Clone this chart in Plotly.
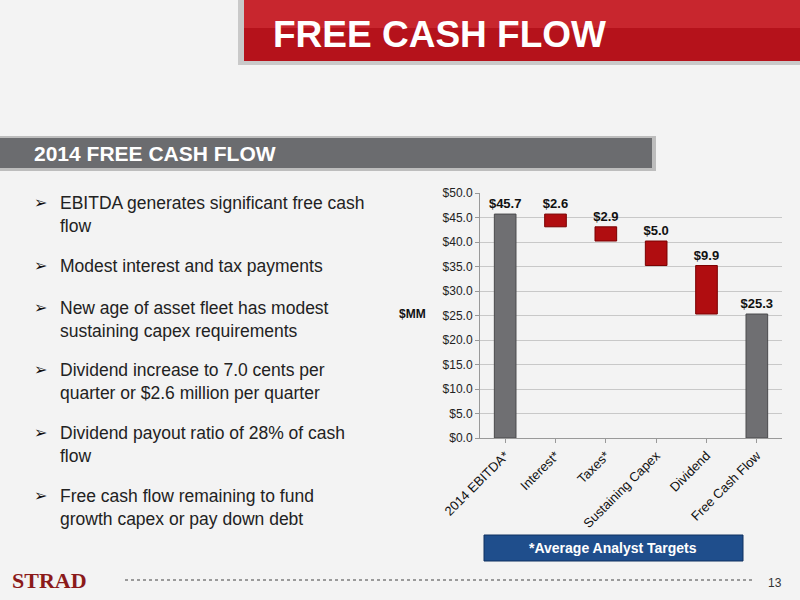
import plotly.graph_objects as go

categories = ["2014 EBITDA*", "Interest*", "Taxes*", "Sustaining Capex", "Dividend", "Free Cash Flow"]
amounts = [45.7, 2.6, 2.9, 5.0, 9.9, 25.3]
kinds = ["total", "down", "down", "down", "down", "total"]
yticks = [0, 5, 10, 15, 20, 25, 30, 35, 40, 45, 50]
bullets = [
    "EBITDA generates significant free cash<br>flow",
    "Modest interest and tax payments",
    "New age of asset fleet has modest<br>sustaining capex requirements",
    "Dividend increase to 7.0 cents per<br>quarter or $2.6 million per quarter",
    "Dividend payout ratio of 28% of cash<br>flow",
    "Free cash flow remaining to fund<br>growth capex or pay down debt",
]
bullet_y = [203, 266, 308, 370, 433, 496]

bases, heights = [], []
level = 0.0
for a, k in zip(amounts, kinds):
    if k == "total":
        bases.append(0.0); heights.append(a); level = a
    else:
        level -= a
        bases.append(level); heights.append(a)
colors = ["#6f6f72" if k == "total" else "#b00d10" for k in kinds]
lines = ["#4a4a4c" if k == "total" else "#7a0000" for k in kinds]

L, R, T, B = 480, 18, 193, 162
PW, PH = 800 - L - R, 600 - T - B

fig = go.Figure()
fig.add_trace(go.Bar(
    x=categories, y=heights, base=bases, width=0.43,
    marker=dict(color=colors, line=dict(color=lines, width=1)),
    text=["<b>$%.1f</b>" % a for a in amounts], textposition="outside", constraintext="none",
    textfont=dict(family="Liberation Sans", size=13, color="#111"),
    cliponaxis=False, hoverinfo="skip"))

fig.update_layout(
    width=800, height=600, margin=dict(l=L, r=R, t=T, b=B),
    paper_bgcolor="#f3f3f3", plot_bgcolor="rgba(0,0,0,0)",
    showlegend=False, font=dict(family="Liberation Sans", color="#222"),
    xaxis=dict(tickangle=-45, tickfont=dict(size=13, color="#111"),
               showline=True, linecolor="#999", ticks="outside", ticklen=4, tickcolor="#999"),
    yaxis=dict(range=[0, 50], tickvals=yticks, ticktext=["$%.1f" % v for v in yticks],
               tickfont=dict(size=12, color="#222"), gridcolor="#c8c8c8",
               showline=True, linecolor="#999", ticks="outside", ticklen=4, tickcolor="#999",
               zeroline=False),
)

def px(x): return (x - L) / PW
def py(y): return (600 - B - y) / PH

def rect(x0, y0, x1, y1, **kw):
    return dict(type="rect", xref="paper", yref="paper", x0=px(x0), x1=px(x1), y0=py(y1), y1=py(y0),
                layer="below", **kw)

shapes = [
    rect(238, -2, 802, 65, fillcolor="#c9c9c9", line=dict(width=0)),
    rect(244, 0, 800, 61, fillcolor="#b5121b", line=dict(width=0)),
    rect(244, 0, 800, 28, fillcolor="#c8262e", line=dict(width=0)),
    rect(0, 136, 656, 171, fillcolor="#bdbdbd", line=dict(width=0)),
    rect(0, 138, 652, 168, fillcolor="#6b6c6f", line=dict(width=0)),
    rect(484, 535, 743, 561, fillcolor="#1f4e8c", line=dict(color="#0f3060", width=1)),
    dict(type="line", xref="paper", yref="paper", x0=px(125), x1=px(755), y0=py(580), y1=py(580),
         line=dict(color="#9a9a9a", width=2, dash="dot")),
]

def A(x, y, text, size, color, family="Liberation Sans", xa="center", ya="middle", **kw):
    return dict(x=px(x), y=py(y), xref="paper", yref="paper", text=text, showarrow=False,
                font=dict(size=size, color=color, family=family), xanchor=xa, yanchor=ya, **kw)

ann = [
    A(439, 34, "<b>FREE CASH FLOW</b>", 37, "white"),
    A(32, 153, "<b>2014 FREE CASH FLOW</b>", 21, "white", xa="left"),
    A(613, 548, "<b>*Average Analyst Targets</b>", 14, "white"),
    A(412, 314, "<b>$MM</b>", 12, "#111"),
    A(10, 580, "<b>STRAD</b>", 22, "#8b1a1a", family="Liberation Serif", xa="left"),
    A(775, 583, "13", 12, "#333"),
]
for t, y in zip(bullets, bullet_y):
    ann.append(A(32, y - 12, "<b>➢</b>", 16, "#111", family="DejaVu Sans", xa="left", ya="top"))
    ann.append(A(58, y - 12, t, 17.5, "#222", xa="left", ya="top", align="left"))

fig.update_layout(shapes=shapes, annotations=ann)
fig.write_html("out.html", post_script="document.body.style.margin='0';",
               config={"displayModeBar": False})
